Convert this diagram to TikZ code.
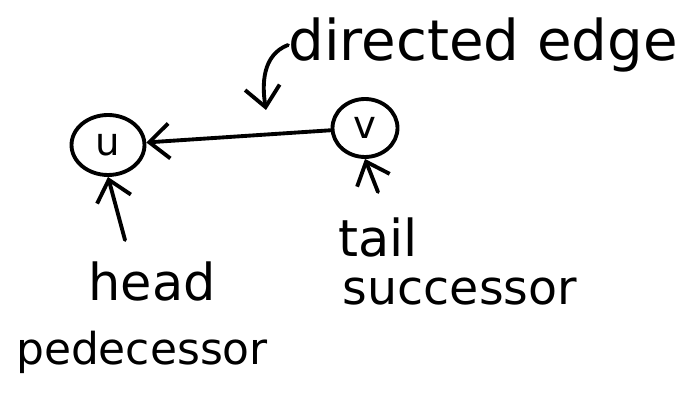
\documentclass[tikz,border=0pt]{standalone}
\usepackage{fontspec}
\setmainfont{DejaVu Sans}
\usetikzlibrary{arrows.meta, positioning, shapes.geometric}

\begin{document}
\begin{tikzpicture}[
  x=0.02cm, y=-0.02cm,
  vert/.style={draw, ellipse, line width=2.2pt, inner sep=0pt,
    font=\fontsize{22}{24}\selectfont},
  lbl/.style={font=\fontsize{29}{34}\selectfont, inner sep=0pt},
  arr/.style={-{Straight Barb[length=4mm, width=7mm]}, line width=2.2pt, line cap=round}
]
\useasboundingbox (0,0) rectangle (695,394);

\node[vert, minimum width=2cm*0.73, minimum height=2cm*0.6] (u) at (108,145) {u};
\node[vert, minimum width=2cm*0.65, minimum height=2cm*0.58] (v) at (365,128) {v};

\node[lbl, anchor=west, font=\fontsize{32}{36}\selectfont] (directed) at (288,45) {directed edge};
\node[lbl] (head) at (152,282) {head};
\node[lbl, font=\fontsize{25}{30}\selectfont] (pred) at (142,352) {pedecessor};
\node[lbl] (tail) at (378,238) {tail};
\node[lbl, font=\fontsize{27}{32}\selectfont] (succ) at (460,292) {successor};

\coordinate (edgept) at (266,110);
\coordinate (headtip) at (125,240);
\coordinate (tailtip) at (378,192);

\draw[arr] (v) -- (u);
\draw[arr] (directed.west) .. controls (262,55) and (262,85) .. (edgept);
\draw[arr] (headtip) -- (u.south);
\draw[arr] (tailtip) -- (v.south);
\end{tikzpicture}
\end{document}
